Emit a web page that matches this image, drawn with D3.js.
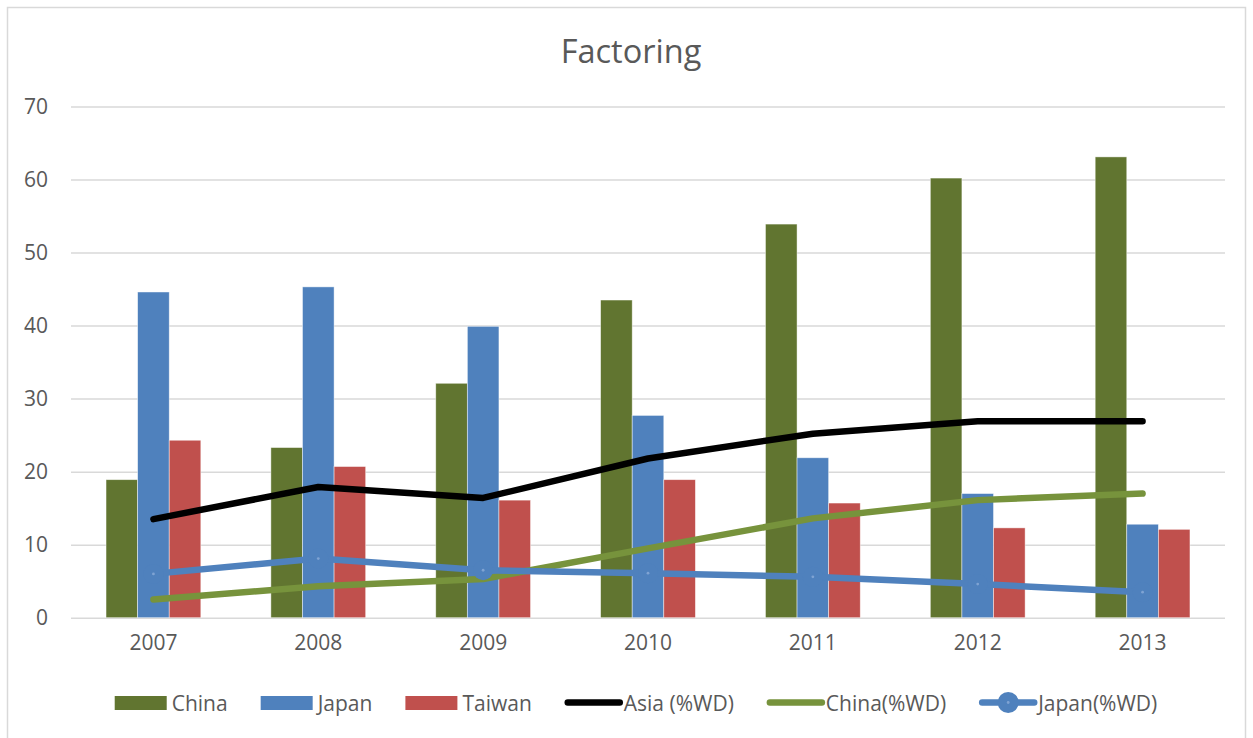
<!DOCTYPE html>
<html>
<head>
<meta charset="utf-8">
<script src="https://cdn.jsdelivr.net/npm/d3@7/dist/d3.min.js"></script>
<style>
  html, body { margin: 0; padding: 0; background: #fff; }
  svg { display: block; font-family: "Open Sans", "DejaVu Sans", sans-serif; }
</style>
</head>
<body>
<svg id="chart" width="1253" height="738"></svg>
<script>
// Factoring volumes by year, with shares of world total (%WD)
const years = ["2007", "2008", "2009", "2010", "2011", "2012", "2013"];
const china = [18.9, 23.3, 32.1, 43.5, 53.9, 60.2, 63.1];
const japan = [44.6, 45.3, 39.9, 27.7, 21.9, 17.0, 12.8];
const taiwan = [24.3, 20.7, 16.1, 18.9, 15.7, 12.3, 12.1];
const asiaWD = [13.5, 17.9, 16.4, 21.8, 25.2, 26.9, 26.9];
const chinaWD = [2.5, 4.3, 5.3, 9.5, 13.6, 16.1, 17.0];
const japanWD = [6.0, 8.1, 6.5, 6.1, 5.6, 4.6, 3.5];
const yTicks = [0, 10, 20, 30, 40, 50, 60, 70];

const barSeries = [
  { name: "China", values: china, color: "#617530" },
  { name: "Japan", values: japan, color: "#4f81bd" },
  { name: "Taiwan", values: taiwan, color: "#c0504d" }
];
const lineSeries = [
  { name: "Asia (%WD)", values: asiaWD, color: "#000000", marker: false },
  { name: "China(%WD)", values: chinaWD, color: "#77933c", marker: false },
  { name: "Japan(%WD)", values: japanWD, color: "#4f81bd", marker: true }
];

const svg = d3.select("#chart");
const textColor = "#595959";
const gridColor = "#d9d9d9";
const labelSize = "21px";

// outer chart frame
svg.append("rect")
  .attr("x", 7.5).attr("y", 7.5)
  .attr("width", 1238).attr("height", 740)
  .attr("fill", "#fff").attr("stroke", "#d9d9d9").attr("stroke-width", 1.5);

const plot = { left: 71, right: 1225, top: 106.5, bottom: 617.7 };

const x0 = d3.scaleBand()
  .domain(years)
  .range([plot.left, plot.right])
  .paddingInner(0.425)
  .paddingOuter(0.2125);

const x1 = d3.scaleBand()
  .domain(barSeries.map(s => s.name))
  .range([0, x0.bandwidth()]);

const y = d3.scaleLinear().domain([0, 70]).range([plot.bottom, plot.top]);

// title
svg.append("text")
  .attr("x", 631).attr("y", 63)
  .attr("text-anchor", "middle")
  .attr("fill", textColor)
  .style("font-size", "32.5px")
  .text("Factoring");

// horizontal gridlines + y labels
const yAxis = d3.axisLeft(y)
  .tickValues(yTicks)
  .tickSize(-(plot.right - plot.left))
  .tickPadding(23)
  .tickFormat(d3.format("d"));

const gy = svg.append("g")
  .attr("transform", `translate(${plot.left},0)`)
  .call(yAxis);
gy.select(".domain").remove();
gy.selectAll(".tick line").attr("stroke", gridColor).attr("stroke-width", 1.5);
gy.selectAll(".tick text")
  .attr("fill", textColor)
  .style("font-size", labelSize)
  .style("font-family", "'Open Sans', sans-serif");

// x axis labels
const xAxis = d3.axisBottom(x0).tickSize(0).tickPadding(17);
const gx = svg.append("g")
  .attr("transform", `translate(0,${plot.bottom})`)
  .call(xAxis);
gx.select(".domain").remove();
gx.selectAll(".tick text")
  .attr("fill", textColor)
  .style("font-size", labelSize)
  .style("font-family", "'Open Sans', sans-serif");

// clustered bars
const groups = svg.append("g").selectAll("g")
  .data(years)
  .join("g")
  .attr("transform", d => `translate(${x0(d)},0)`);

groups.selectAll("rect")
  .data((d, i) => barSeries.map(s => ({ name: s.name, value: s.values[i], color: s.color })))
  .join("rect")
  .attr("x", d => x1(d.name))
  .attr("width", x1.bandwidth())
  .attr("y", d => y(d.value))
  .attr("height", d => y(0) - y(d.value))
  .attr("fill", d => d.color)
  .attr("stroke", "#ffffff")
  .attr("stroke-opacity", 0.6)
  .attr("stroke-width", 0.75);

// line series
const cx = yr => x0(yr) + x0.bandwidth() / 2;
const lineGen = d3.line()
  .x((d, i) => cx(years[i]))
  .y(d => y(d));

lineSeries.forEach(s => {
  svg.append("path")
    .datum(s.values)
    .attr("d", lineGen)
    .attr("fill", "none")
    .attr("stroke", s.color)
    .attr("stroke-width", 6.5)
    .attr("stroke-linecap", "round")
    .attr("stroke-linejoin", "round");
  if (s.marker) {
    const m = svg.append("g").selectAll("g")
      .data(s.values)
      .join("g")
      .attr("transform", (d, i) => `translate(${cx(years[i])},${y(d)})`);
    m.append("circle").attr("r", 10).attr("fill", s.color);
    m.append("circle").attr("r", 1.4).attr("fill", "#7fa3d3");
  }
});

// legend
const legend = svg.append("g");
const items = [
  ...barSeries.map(s => ({ name: s.name, color: s.color, type: "bar" })),
  ...lineSeries.map(s => ({ name: s.name, color: s.color, type: "line", marker: s.marker }))
];
const swatchW = 52, swatchGap = 5, itemGap = 33;
let cursor = 0;
items.forEach(it => {
  const g = legend.append("g");
  const textX = swatchW + swatchGap + (it.type === "line" ? 2 : 0);
  if (it.type === "bar") {
    g.append("rect").attr("x", 0).attr("y", -7).attr("width", swatchW).attr("height", 14).attr("fill", it.color);
  } else {
    g.append("line").attr("x1", 3).attr("x2", swatchW + 3).attr("y1", -0.5).attr("y2", -0.5)
      .attr("stroke", it.color).attr("stroke-width", 6.5).attr("stroke-linecap", "round");
    if (it.marker) {
      g.append("circle").attr("cx", swatchW / 2 + 3).attr("cy", -0.5).attr("r", 10.5).attr("fill", it.color);
      g.append("circle").attr("cx", swatchW / 2 + 3).attr("cy", -0.5).attr("r", 1.4).attr("fill", "#7fa3d3");
    }
  }
  const t = g.append("text")
    .attr("x", textX)
    .attr("y", 7.5)
    .attr("fill", textColor)
    .style("font-size", labelSize)
    .text(it.name);
  const w = textX + t.node().getComputedTextLength();
  g.attr("transform", `translate(${cursor},0)`);
  cursor += w + itemGap;
});
const totalW = cursor - itemGap;
legend.attr("transform", `translate(${636 - totalW / 2},703)`);
</script>
</body>
</html>
